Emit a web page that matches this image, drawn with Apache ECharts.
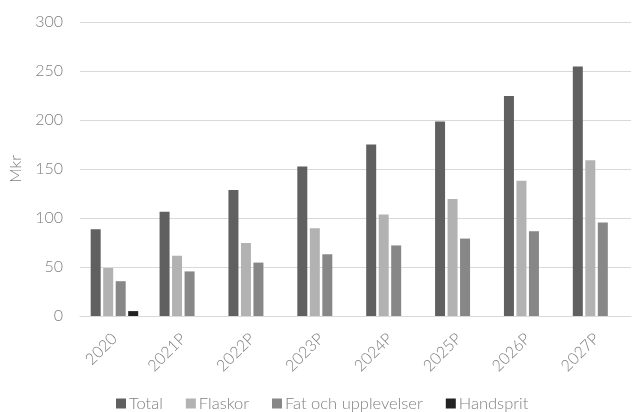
<!DOCTYPE html>
<html>
<head>
<meta charset="utf-8">
<script src="https://cdn.jsdelivr.net/npm/echarts@6/dist/echarts.min.js"></script>
<style>
html,body{margin:0;padding:0;background:#fff;}
#chart{width:632px;height:412px;}
</style>
</head>
<body>
<div id="chart"></div>
<script>
// Market size per year, in Mkr (P = prognosis)
const years = ['2020', '2021P', '2022P', '2023P', '2024P', '2025P', '2026P', '2027P'];
const total = [88.5, 106.5, 128.5, 152.5, 175, 198.5, 224.5, 254.5];
const flaskor = [49, 61.5, 74.5, 89.5, 103.5, 119.5, 138, 159];
const fatOchUpplevelser = [35.5, 45.5, 54.5, 63, 72, 79, 86.5, 95.5];
const handsprit = [5, null, null, null, null, null, null, null];
const yTicks = [0, 50, 100, 150, 200, 250, 300];

const font = 'Lato, "Open Sans", sans-serif';
const textColor = '#7f7f7f';

const chart = echarts.init(document.getElementById('chart'));

function barSeries(name, data, color) {
  return {
    name: name,
    type: 'bar',
    data: data,
    barWidth: 10,
    barGap: '25%',
    itemStyle: { color: color },
    emphasis: { disabled: true }
  };
}

chart.setOption({
  animation: false,
  grid: { left: 80, right: 1, top: 22, bottom: 96, containLabel: false },
  legend: {
    top: 395,
    left: 116,
    padding: 0,
    itemWidth: 10,
    itemHeight: 10,
    itemGap: 23,
    icon: 'rect',
    textStyle: { fontFamily: font, fontWeight: 300, fontSize: 16.5, color: textColor, padding: [0, 0, 0, -2] },
    data: ['Total', 'Flaskor', 'Fat och upplevelser', 'Handsprit']
  },
  xAxis: {
    type: 'category',
    data: years,
    axisLine: { lineStyle: { color: '#d9d9d9', width: 1 } },
    axisTick: { show: false },
    axisLabel: {
      rotate: 45,
      fontFamily: font,
      fontWeight: 300,
      fontSize: 16,
      color: textColor,
      margin: 20,
      interval: 0
    }
  },
  yAxis: {
    type: 'value',
    min: yTicks[0],
    max: yTicks[yTicks.length - 1],
    interval: 50,
    name: 'Mkr',
    nameLocation: 'middle',
    nameGap: 54,
    nameRotate: 90,
    nameTextStyle: { fontFamily: font, fontWeight: 300, fontSize: 16, color: textColor },
    axisLine: { show: false },
    axisTick: { show: false },
    axisLabel: { fontFamily: font, fontWeight: 300, fontSize: 16, color: textColor, margin: 17 },
    splitLine: { lineStyle: { color: '#d9d9d9', width: 1 } }
  },
  series: [
    barSeries('Total', total, '#606060'),
    barSeries('Flaskor', flaskor, '#b2b2b2'),
    barSeries('Fat och upplevelser', fatOchUpplevelser, '#878787'),
    barSeries('Handsprit', handsprit, '#222222')
  ]
});
</script>
</body>
</html>
